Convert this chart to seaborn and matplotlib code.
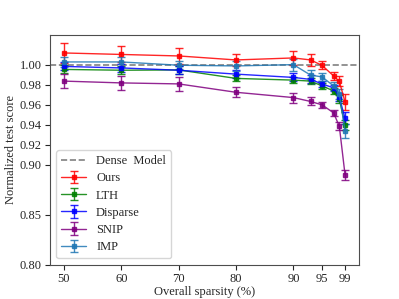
import numpy as np
import pandas as pd
import seaborn as sns
import matplotlib
matplotlib.use("Agg")
import matplotlib.pyplot as plt

sparsity = [50, 60, 70, 80, 90, 93, 95, 97, 98, 99]
xticks = [50, 60, 70, 80, 90, 95, 99]
yticks = [0.80, 0.85, 0.90, 0.92, 0.94, 0.96, 0.98, 1.00]

ours = [1.012, 1.0105, 1.009, 1.005, 1.007, 1.005, 0.9995, 0.989, 0.9835, 0.963]
ours_err = [0.010, 0.008, 0.008, 0.006, 0.007, 0.006, 0.004, 0.004, 0.005, 0.008]
lth = [0.9955, 0.9947, 0.995, 0.9865, 0.9848, 0.9838, 0.979, 0.974, 0.966, 0.9396]
lth_err = [0.004, 0.004, 0.004, 0.003, 0.003, 0.003, 0.003, 0.003, 0.004, 0.005]
disparse = [0.9985, 0.997, 0.9947, 0.9908, 0.9875, 0.9855, 0.981, 0.977, 0.9676, 0.9465]
disparse_err = [0.004, 0.004, 0.004, 0.004, 0.004, 0.004, 0.003, 0.003, 0.004, 0.006]
snip = [0.9838, 0.982, 0.981, 0.9726, 0.9673, 0.9634, 0.960, 0.952, 0.9386, 0.890]
snip_err = [0.007, 0.007, 0.007, 0.005, 0.005, 0.004, 0.003, 0.003, 0.004, 0.005]
imp = [1.003, 1.003, 0.9997, 0.999, 1.0003, 0.9898, 0.988, 0.979, 0.971, 0.934]
imp_err = [0.005, 0.005, 0.004, 0.005, 0.006, 0.005, 0.004, 0.004, 0.005, 0.007]

methods = ["Ours", "LTH", "Disparse", "SNIP", "IMP"]
colors = ["red", "green", "blue", "purple", "#1f77b4"]

df = pd.DataFrame({
    "sparsity": sparsity * 5,
    "score": ours + lth + disparse + snip + imp,
    "err": ours_err + lth_err + disparse_err + snip_err + imp_err,
    "method": np.repeat(methods, len(sparsity)),
})

sns.set_style("ticks")
plt.rcParams["font.family"] = ["Liberation Serif", "DejaVu Serif"]
plt.rcParams["font.size"] = 9
plt.rcParams["xtick.major.size"] = 3.5
plt.rcParams["ytick.major.size"] = 3.5
plt.rcParams["xtick.major.pad"] = 2.5
plt.rcParams["ytick.major.pad"] = 2.5
plt.rcParams["axes.edgecolor"] = "0.3"

fig, ax = plt.subplots(figsize=(3.99, 2.99), dpi=100)
fig.subplots_adjust(bottom=0.115, top=0.883)

ax.axhline(1.0, color="gray", linestyle="--", linewidth=1.2, label="Dense  Model")
for m, c in zip(methods, colors):
    d = df[df["method"] == m]
    ax.errorbar(d["sparsity"], d["score"], yerr=d["err"], fmt="-s", color=c,
                markersize=3, linewidth=1, elinewidth=1, capsize=3, alpha=0.85, label=m)

ax.set_ylim(0.80, 1.03)
ax.set_xticks(xticks)
ax.set_yticks(yticks)
ax.set_xlabel("Overall sparsity (%)", labelpad=1)
ax.set_ylabel("Normalized test score", labelpad=2)
ax.legend(loc="lower left", labelspacing=0.42)

fig.savefig("out.png", dpi=100)
